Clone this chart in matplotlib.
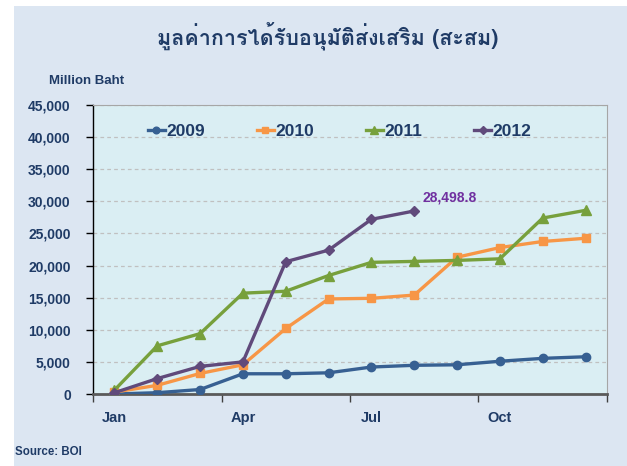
import matplotlib
matplotlib.use("Agg")
import matplotlib.pyplot as plt
from matplotlib import font_manager
from matplotlib.ft2font import FT2Font
from matplotlib.ticker import FixedLocator, FuncFormatter, NullFormatter

# ---------------- data ----------------
months = ["Jan", "Feb", "Mar", "Apr", "May", "Jun", "Jul", "Aug", "Sep", "Oct", "Nov", "Dec"]
month_labels = ["Jan", "Apr", "Jul", "Oct"]
v2009 = [0, 200, 700, 3150, 3150, 3300, 4200, 4470, 4550, 5100, 5550, 5800]
v2010 = [300, 1350, 3200, 4550, 10200, 14800, 14900, 15400, 21300, 22800, 23750, 24250]
v2011 = [600, 7500, 9400, 15700, 16000, 18450, 20500, 20650, 20800, 21050, 27400, 28600]
v2012 = [200, 2400, 4300, 5000, 20600, 22400, 27200, 28498.8]
title = "มูลค่าการได้รับอนุมัติส่งเสริม (สะสม)"
unit_label = "Million Baht"
source = "Source: BOI"

# ---------------- fonts ----------------
def has_glyph(path, ch):
    try:
        return FT2Font(path).get_char_index(ord(ch)) != 0
    except Exception:
        return False

thai_fonts = []
for f in font_manager.fontManager.ttflist:
    if has_glyph(f.fname, "ม") and f.name not in thai_fonts:
        thai_fonts.append(f.name)
title_family = thai_fonts[:1] + ["DejaVu Sans"]
sans = ["Liberation Sans", "DejaVu Sans"]

navy = "#1F3B66"
panel_bg = "#DCE6F2"
plot_bg = "#DAEEF3"
c2009 = "#376092"
c2010 = "#F79646"
c2011 = "#77A03C"
c2012 = "#604A7B"

fig = plt.figure(figsize=(6.27, 4.66), dpi=100)
fig.patch.set_facecolor("white")
fig.patches.append(plt.Rectangle((14 / 627, 0), 1 - 14 / 627, 1 - 6 / 466,
                                 transform=fig.transFigure, facecolor=panel_bg,
                                 edgecolor="none", zorder=-10))

ax = fig.add_axes([93 / 627, 1 - 394 / 466, (607 - 93) / 627, (394 - 105) / 466])
ax.set_facecolor(plot_bg)

x = [i + 0.5 for i in range(len(months))]
lw = 2.4
ms = 6
ax.plot(x[:len(v2009)], v2009, color=c2009, lw=lw, marker="o", ms=ms, label="2009", zorder=3)
ax.plot(x[:len(v2010)], v2010, color=c2010, lw=lw, marker="s", ms=ms, label="2010", zorder=3)
ax.plot(x[:len(v2011)], v2011, color=c2011, lw=lw, marker="^", ms=ms + 1, label="2011", zorder=3)
ax.plot(x[:len(v2012)], v2012, color=c2012, lw=lw, marker="D", ms=ms - 0.5, label="2012", zorder=4)

ax.annotate(f"{v2012[-1]:,.1f}", xy=(x[len(v2012) - 1], v2012[-1]), xytext=(6, 5),
            textcoords="offset points", ha="left", va="bottom",
            fontsize=10, fontweight="bold", color="#7030A0", family=sans)

ax.set_xlim(0, 12)
ax.set_ylim(0, 45000)
ax.yaxis.set_major_locator(FixedLocator(list(range(0, 45001, 5000))))
ax.yaxis.set_major_formatter(FuncFormatter(lambda v, p: f"{int(v):,}"))
ax.grid(axis="y", color="#C0C0C0", linestyle=(0, (3, 2.5)), linewidth=0.9, zorder=1)
ax.set_axisbelow(True)

ax.xaxis.set_major_locator(FixedLocator([0, 3, 6, 9, 12]))
ax.xaxis.set_major_formatter(NullFormatter())
ax.xaxis.set_minor_locator(FixedLocator([months.index(m) + 0.5 for m in month_labels]))
ax.xaxis.set_minor_formatter(FuncFormatter(lambda v, p: months[int(v)]))
ax.tick_params(axis="x", which="major", length=6, width=1, color="#404040", direction="out")
ax.tick_params(axis="x", which="minor", length=0, pad=12, labelsize=10.5, labelcolor=navy)
ax.tick_params(axis="y", length=5, width=1, color="black", pad=11, labelsize=10, labelcolor=navy)
for lab in ax.get_xticklabels(minor=True) + ax.get_yticklabels():
    lab.set_fontweight("bold")
    lab.set_family(sans)

ax.spines["left"].set_color("black")
ax.spines["left"].set_linewidth(1)
ax.spines["bottom"].set_color("#5A5A5A")
ax.spines["bottom"].set_linewidth(2)
ax.spines["top"].set_color("#A6A6A6")
ax.spines["right"].set_color("#A6A6A6")

leg = ax.legend(loc="center", bbox_to_anchor=(0.48, 0.91), ncol=4, frameon=False,
                handlelength=0.95, handletextpad=0.1, columnspacing=3.0,
                prop={"family": sans, "weight": "bold", "size": 12.5}, markerscale=0.8)
for t in leg.get_texts():
    t.set_color(navy)

fig.text(328 / 627, 1 - 36 / 466, title, ha="center", va="center",
         fontsize=15.5, fontweight="bold", color=navy, family=title_family)
fig.text(49 / 627, 1 - 81 / 466, unit_label, ha="left", va="center",
         fontsize=9.5, fontweight="bold", color=navy, family=sans)
fig.text(15 / 627, 1 - 452 / 466, source, ha="left", va="center",
         fontsize=8.3, fontweight="bold", color=navy, family=sans)

fig.savefig("out.png", dpi=100, facecolor=fig.get_facecolor())
